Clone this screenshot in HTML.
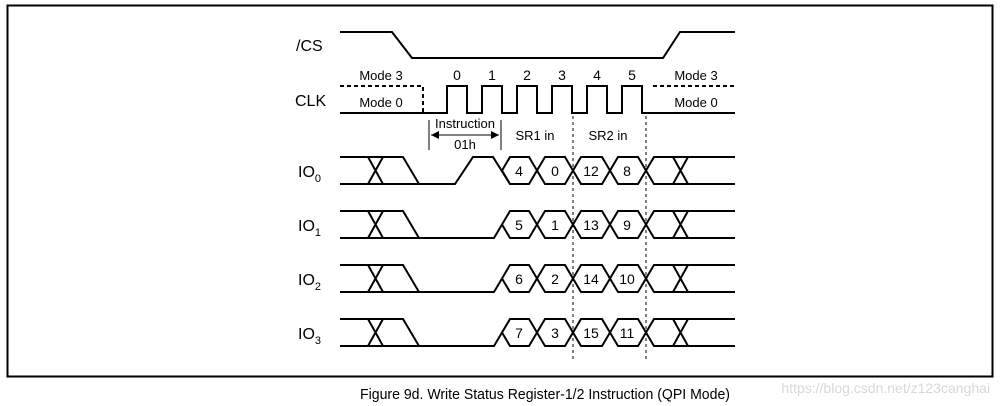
<!DOCTYPE html>
<html><head><meta charset="utf-8"><style>
html,body{margin:0;padding:0;background:#fff;}
svg{display:block;font-family:"Liberation Sans",Arial,sans-serif;}
</style></head><body>
<svg width="1000" height="406" viewBox="0 0 1000 406" xmlns="http://www.w3.org/2000/svg">
<rect x="7.5" y="5.5" width="985" height="371" fill="none" stroke="#000" stroke-width="2"/>
<g fill="none" stroke="#000" stroke-width="2" stroke-linejoin="miter">
<path d="M340 32 H392 L412 58 H663 L680 32 H735"/>
<path d="M340 113 H447 V86 H467 V113 H482 V86 H502 V113 H517 V86 H537 V113 H552 V86 H572 V113 H587 V86 H607 V113 H622 V86 H642 V113 H735"/>
</g>
<g fill="none" stroke="#000" stroke-width="2" stroke-dasharray="4,3">
<path d="M340 86 H423 V113"/>
<path d="M653 86 H735"/>
</g>
<g fill="none" stroke="#000" stroke-width="1" stroke-dasharray="3,3">
<path d="M573 116 V362 M646 116 V362"/>
</g>
<g fill="none" stroke="#000" stroke-width="1">
<path d="M429 120 V150 M501 120 V150 M431 135 H499"/>
</g>
<path d="M431 135 l8 -4 v8 z M499 135 l-8 -4 v8 z" fill="#000"/>
<g fill="none" stroke="#000" stroke-width="2">
<path d="M340 157 H403 L419 184 M340 184 H455 L473 157 H493 L510 184"/>
<path d="M368 157 L383 184 M368 184 L383 157"/>
<path d="M340 211 H403 L419 238 M340 238 H494 L502 224.5"/>
<path d="M368 211 L383 238 M368 238 L383 211"/>
<path d="M340 265 H403 L419 292 M340 292 H494 L502 278.5"/>
<path d="M368 265 L383 292 M368 292 L383 265"/>
<path d="M340 319 H403 L419 346 M340 346 H494 L502 332.5"/>
<path d="M368 319 L383 346 M368 346 L383 319"/>
<path d="M502 170.5 L510 157 H529 L545 184 H565 L581 157 H602 L618 184 H638 L654 157 H735 M502 170.5 L510 184 H529 L545 157 H565 L581 184 H602 L618 157 H638 L654 184 H735 M673 157 L688 184 M673 184 L688 157"/>
<path d="M502 224.5 L510 211 H529 L545 238 H565 L581 211 H602 L618 238 H638 L654 211 H735 M502 224.5 L510 238 H529 L545 211 H565 L581 238 H602 L618 211 H638 L654 238 H735 M673 211 L688 238 M673 238 L688 211"/>
<path d="M502 278.5 L510 265 H529 L545 292 H565 L581 265 H602 L618 292 H638 L654 265 H735 M502 278.5 L510 292 H529 L545 265 H565 L581 292 H602 L618 265 H638 L654 292 H735 M673 265 L688 292 M673 292 L688 265"/>
<path d="M502 332.5 L510 319 H529 L545 346 H565 L581 319 H602 L618 346 H638 L654 319 H735 M502 332.5 L510 346 H529 L545 319 H565 L581 346 H602 L618 319 H638 L654 346 H735 M673 319 L688 346 M673 346 L688 319"/>
</g>
<g font-size="16" fill="#000">
<text x="296" y="51">/CS</text>
<text x="295" y="106">CLK</text>
<text x="298" y="177">IO<tspan font-size="11" dy="5">0</tspan></text>
<text x="298" y="231">IO<tspan font-size="11" dy="5">1</tspan></text>
<text x="298" y="285">IO<tspan font-size="11" dy="5">2</tspan></text>
<text x="298" y="339">IO<tspan font-size="11" dy="5">3</tspan></text>
</g>
<g font-size="13" fill="#000" text-anchor="middle">
<text x="381" y="80">Mode 3</text>
<text x="381" y="107">Mode 0</text>
<text x="696" y="80">Mode 3</text>
<text x="696" y="107">Mode 0</text>
<text x="465" y="128">Instruction</text>
<text x="465" y="149">01h</text>
<text x="535" y="140">SR1 in</text>
<text x="608" y="140">SR2 in</text>
</g>
<g font-size="14" fill="#000" text-anchor="middle">
<text x="457" y="80">0</text><text x="492" y="80">1</text><text x="527" y="80">2</text>
<text x="562" y="80">3</text><text x="597" y="80">4</text><text x="632" y="80">5</text>
<text x="519" y="176">4</text><text x="555" y="176">0</text><text x="591" y="176">12</text><text x="627" y="176">8</text>
<text x="519" y="230">5</text><text x="555" y="230">1</text><text x="591" y="230">13</text><text x="627" y="230">9</text>
<text x="519" y="284">6</text><text x="555" y="284">2</text><text x="591" y="284">14</text><text x="627" y="284">10</text>
<text x="519" y="338">7</text><text x="555" y="338">3</text><text x="591" y="338">15</text><text x="627" y="338">11</text>
</g>
<text x="360" y="399" font-size="15" textLength="370" lengthAdjust="spacingAndGlyphs" fill="#000">Figure 9d. Write Status Register-1/2 Instruction (QPI Mode)</text>
<text x="990" y="393" font-size="14" text-anchor="end" fill="#d8d8d8">https://blog.csdn.net/z123canghai</text>
</svg>
</body></html>
